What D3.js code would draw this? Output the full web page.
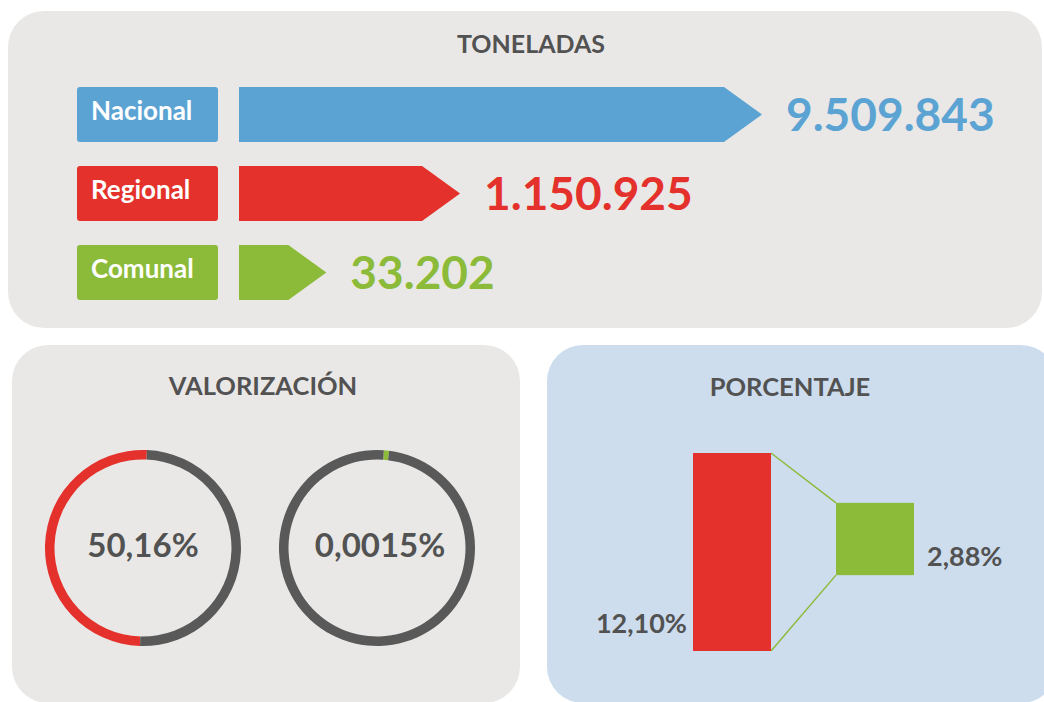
<!DOCTYPE html>
<html>
<head>
<meta charset="utf-8">
<script src="https://cdn.jsdelivr.net/npm/d3@7"></script>
<style>
  html, body { margin: 0; padding: 0; background: #ffffff; }
  svg { display: block; }
  text { font-family: Lato, "Open Sans", sans-serif; font-weight: 700; }
</style>
</head>
<body>
<svg id="chart" width="1044" height="702"></svg>
<script>
// ---------- DATA ----------
const tonCategories = ["Nacional", "Regional", "Comunal"];
const tonValues = [9509843, 1150925, 33202];
const tonLabels = ["9.509.843", "1.150.925", "33.202"];

const valorTitles = ["Regional", "Comunal"];
const valorValues = [50.16, 0.0015];
const valorLabels = ["50,16%", "0,0015%"];

const pctCategories = ["Regional", "Comunal"];
const pctValues = [12.10, 2.88];
const pctLabels = ["12,10%", "2,88%"];

const panelTitles = ["TONELADAS", "VALORIZACIÓN", "PORCENTAJE"];

// ---------- STYLE ----------
const colors = { Nacional: "#5BA3D3", Regional: "#E4312B", Comunal: "#8CBB3A" };
const textGray = "#525252";
const ringGray = "#595959";
const panelGray = "#E9E8E7";
const panelBlue = "#CDDDEE";

const svg = d3.select("#chart");

// ---------- PANELS ----------
svg.append("rect").attr("x", 8).attr("y", 11).attr("width", 1034).attr("height", 317)
  .attr("rx", 36).attr("fill", panelGray);
svg.append("rect").attr("x", 12).attr("y", 345).attr("width", 508).attr("height", 358)
  .attr("rx", 36).attr("fill", panelGray);
svg.append("rect").attr("x", 547).attr("y", 345).attr("width", 510).attr("height", 358)
  .attr("rx", 36).attr("fill", panelBlue);

// titles
svg.append("text").attr("x", 531).attr("y", 53).attr("text-anchor", "middle")
  .attr("font-size", 25).attr("fill", textGray).text(panelTitles[0]);
svg.append("text").attr("x", 263).attr("y", 395).attr("text-anchor", "middle")
  .attr("font-size", 25.5).attr("fill", textGray).text(panelTitles[1]);
svg.append("text").attr("x", 790).attr("y", 396).attr("text-anchor", "middle")
  .attr("font-size", 25.5).attr("fill", textGray).text(panelTitles[2]);

// ---------- TONELADAS (arrow bars) ----------
const y = d3.scaleBand().domain(tonCategories).range([87, 300]).paddingInner(0.304).paddingOuter(0);
const barX0 = 239;
const len = d3.scaleSqrt().domain([0, d3.max(tonValues)]).range([60, 523]);
const tip = 38;

const rows = svg.append("g").selectAll("g").data(tonCategories).join("g");

rows.append("rect")
  .attr("x", 77).attr("y", d => y(d)).attr("width", 141).attr("height", y.bandwidth())
  .attr("rx", 3).attr("fill", d => colors[d]);

rows.append("text")
  .attr("x", 91).attr("y", d => y(d) + 33)
  .attr("font-size", 26).attr("fill", "#ffffff").text(d => d);

rows.append("path")
  .attr("fill", d => colors[d])
  .attr("d", (d, i) => {
    const x1 = barX0 + len(tonValues[i]);
    const y0 = y(d), h = y.bandwidth();
    return d3.line()([[barX0, y0], [x1 - tip, y0], [x1, y0 + h / 2], [x1 - tip, y0 + h], [barX0, y0 + h]]) + "Z";
  });

rows.append("text")
  .attr("x", (d, i) => barX0 + len(tonValues[i]) + 24)
  .attr("y", d => y(d) + y.bandwidth() / 2 + 16.5)
  .attr("font-size", 46).attr("fill", d => colors[d])
  .text((d, i) => tonLabels[i]);

// ---------- VALORIZACIÓN (donuts) ----------
const donutCenters = [[143, 548], [377, 548]];
const arc = d3.arc().innerRadius(88.5).outerRadius(98);
const minAngle = 0.055;

valorValues.forEach((v, i) => {
  const g = svg.append("g").attr("transform", `translate(${donutCenters[i][0]},${donutCenters[i][1]})`);
  const start = i === 0 ? Math.PI + 0.03 : 0.07;
  const pie = d3.pie().sort(null).value(d => d).startAngle(start).endAngle(start + 2 * Math.PI);
  const slices = pie([v, 100 - v]);
  // enforce a minimal visible sliver for tiny values
  if (slices[0].endAngle - slices[0].startAngle < minAngle) {
    slices[0].endAngle = slices[0].startAngle + minAngle;
    slices[1].startAngle = slices[0].endAngle;
  }
  g.selectAll("path").data(slices).join("path")
    .attr("d", arc)
    .attr("fill", (d, j) => j === 0 ? colors[valorTitles[i]] : ringGray);
  g.append("text").attr("x", i === 0 ? 0 : 3).attr("y", 9).attr("text-anchor", "middle")
    .attr("font-size", 33).attr("fill", textGray).text(valorLabels[i]);
});

// ---------- PORCENTAJE (funnel) ----------
const px = d3.scaleBand().domain(pctCategories).range([693, 914]).paddingInner(0.4545).paddingOuter(0);
const ph = d3.scaleLinear().domain([0, d3.max(pctValues)]).range([33, 198]);
const pctCenters = [552, 539];

const boxes = pctCategories.map((c, i) => {
  const h = ph(pctValues[i]);
  return { c, x: px(c), w: px.bandwidth(), y: pctCenters[i] - h / 2, h };
});

const fg = svg.append("g");
fg.append("line")
  .attr("x1", boxes[0].x + boxes[0].w).attr("y1", boxes[0].y)
  .attr("x2", boxes[1].x).attr("y2", boxes[1].y)
  .attr("stroke", colors.Comunal).attr("stroke-width", 1.5);
fg.append("line")
  .attr("x1", boxes[0].x + boxes[0].w).attr("y1", boxes[0].y + boxes[0].h)
  .attr("x2", boxes[1].x).attr("y2", boxes[1].y + boxes[1].h)
  .attr("stroke", colors.Comunal).attr("stroke-width", 1.5);

fg.selectAll("rect").data(boxes).join("rect")
  .attr("x", d => d.x).attr("y", d => d.y).attr("width", d => d.w).attr("height", d => d.h)
  .attr("fill", d => colors[d.c]);

fg.append("text").attr("x", boxes[0].x - 6).attr("y", 633).attr("text-anchor", "end")
  .attr("font-size", 27).attr("fill", textGray).text(pctLabels[0]);
fg.append("text").attr("x", boxes[1].x + boxes[1].w + 13).attr("y", 566)
  .attr("font-size", 27).attr("fill", textGray).text(pctLabels[1]);
</script>
</body>
</html>
